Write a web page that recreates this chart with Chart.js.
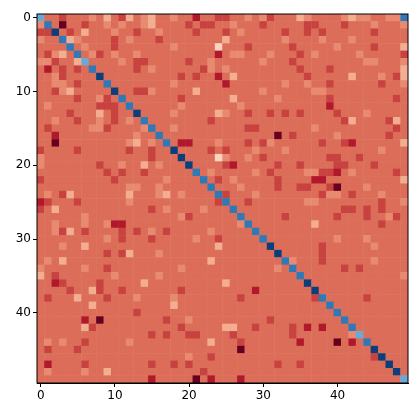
<!DOCTYPE html>
<html>
<head>
<meta charset="utf-8">
<script src="https://cdn.jsdelivr.net/npm/chart.js@4.4.1/dist/chart.umd.min.js"></script>
<style>
  html, body { margin: 0; padding: 0; background: #fff; }
  #wrap { width: 417px; height: 415px; }
</style>
</head>
<body>
<div id="wrap"><canvas id="heat" width="417" height="415"></canvas></div>
<script>
/* ── DATA: 50x50 matrix, one digit per cell (0 = darkest red .. 9 = darkest blue) ── */
const rowsA = [
  '73323334353253453','48303323343433453','22932353334332334','43385433332343332',
  '33338343332333333','32453834234334333','44233573333432233','31323238333332343',
  '33423333933333333','33443233383333333','33245333339332243','33333233423833333',
  '34333333222383333','33332333532339333','33433233432343833','32333334423333483',
  '33133333333334338','33033333333345343','23333233333323323','43333333333333323',
  '43333333233433534','33333333323233233','23333333332333333','33333333333344334',
  '34325333333353334','12333233333343333','23533333333333323','33333343333333333',
  '33433343341133333','33425323333232343','33333333343233323','33343353333333333',
  '33333333323253334','34353333333333333','43333343323333333','53233333334333334',
  '33123333233333533','33332335233233333','32333533323334333','33333335333333333',
  '33333333333332333','33333313033333333','33333352333333333','33333333333333323',
  '34343323333343333','32333233333333333','33333333333333333','31333323333333323',
  '34333343353333333','33333333333333313'
];
const rowsB = [
  '34331332233434233','33323223343332333','33332333234333332','33333333533333334',
  '34333336333233333','33333331344333433','33323343333334333','33333243433333333',
  '33232331353333333','34333333133333334','33335333333334333','33233333353333343',
  '33433333334333333','34333335433233232','33333323333333333','34333333333223333',
  '33333333333333303','83113334333232433','39333323233343334','33933336433432333',
  '33393333213333323','33338343333343233','43333832343333323','33333383334333323',
  '53433338233343333','33333332833233333','43333433383333333','33423333338333332',
  '33333333334833333','23333343333383333','33334332333338333','33333335333333933',
  '33333333333333393','33333353333333338','33433333333333343','33333333333333333',
  '33333333533333333','33233333333313333','34333333332333333','35333333333333333',
  '33333333333333333','23343333333333233','33233333553323333','23322333323333333',
  '33333353332333333','33333333330333333','33343323333333333','32323333333333323',
  '33333233333333333','33330313331333333'
];
const rowsC = [
  '3543333454433448','3322333233343334','3323233333323333','3333433343333333',
  '2333334333323335','3234333334333332','2333333333443334','3233323333333335',
  '3323333353334325','3343323333332334','3334433333333333','3333323333333323',
  '3333313333333333','3233332333433333','3333333253333253','3334333333333323',
  '2333334333333233','3333233213333335','3333333333334333','3333322332333333',
  '3233332233323333','3344221343333323','3331133333333335','3223320333433333',
  '3333244323334333','3344333333332334','3333333223232333','3333332333233423',
  '3335333333332333','3333333333333333','3333334333433333','3333233333343333',
  '3333233333333333','4333233333343333','8333333232333333','3833333333333334',
  '3393333333333333','3339333333333333','3332833333233333','3333383333333333',
  '3333338333333333','3333333833333333','2313133383333333','2333333347333333',
  '3133330313833333','3333333333393333','3333333333329333','3233333333333933',
  '3333333333333393','3333333333333337'
];
const tickValues = [0, 10, 20, 30, 40];

// RdBu-like palette for the ten levels
const palette = ['#67001f','#b2182b','#c8423f','#dc6d59','#e88a70','#f3ae92',
                 '#fbd4bf','#6ba9d5','#2f79b6','#0b3e7a'];

const cells = [];
rowsA.forEach((_, r) => {
  const row = rowsA[r] + rowsB[r] + rowsC[r];
  for (let c = 0; c < 50; c++) {
    cells.push({ x: c, y: r, v: Number(row[c] || 3) });
  }
});

function cellRadius(ctx) {
  const area = ctx.chart.chartArea;
  if (!area) return 3;
  return (area.right - area.left) / 50 / Math.SQRT2 + 0.35;
}

const fixedTicks = axis => { axis.ticks = tickValues.map(v => ({ value: v })); };
const tickStyle = { color: '#000', font: { family: 'DejaVu Sans', size: 12 }, padding: 2, autoSkip: false };
const gridStyle = { display: true, drawOnChartArea: false, color: '#000', tickLength: 4 };

new Chart(document.getElementById('heat'), {
  type: 'scatter',
  data: {
    datasets: [{
      data           : cells,
      pointStyle     : 'rect',
      pointRadius    : cellRadius,
      pointHoverRadius: cellRadius,
      borderWidth    : 0,
      backgroundColor: ctx => palette[ctx.raw ? ctx.raw.v : 3],
    }]
  },
  options: {
    responsive: false,
    animation : false,
    layout    : { padding: { top: 14, right: 9, left: 0, bottom: 0 } },
    scales: {
      x: {
        type: 'linear', min: -0.5, max: 49.5,
        afterBuildTicks: fixedTicks,
        afterFit: axis => { axis.height = 32; },
        ticks: tickStyle,
        grid : gridStyle,
        border: { display: true, color: '#000', width: 1 },
      },
      y: {
        type: 'linear', min: -0.5, max: 49.5, reverse: true,
        afterBuildTicks: fixedTicks,
        afterFit: axis => { axis.width = 37; },
        ticks: tickStyle,
        grid : gridStyle,
        border: { display: true, color: '#000', width: 1 },
      }
    },
    plugins: { legend: { display: false }, tooltip: { enabled: false } }
  },
  plugins: [{
    id: 'frame',
    afterDraw(chart) {
      const { ctx, chartArea: a } = chart;
      ctx.save();
      ctx.strokeStyle = '#000';
      ctx.lineWidth = 1;
      ctx.strokeRect(a.left, a.top, a.right - a.left, a.bottom - a.top);
      ctx.restore();
    }
  }]
});
</script>
</body>
</html>
